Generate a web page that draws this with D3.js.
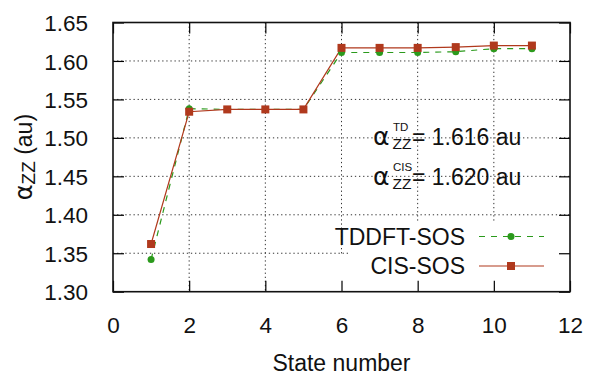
<!DOCTYPE html>
<html>
<head>
<meta charset="utf-8">
<script src="https://cdn.jsdelivr.net/npm/d3@7/dist/d3.min.js"></script>
<style>
  html, body { margin: 0; padding: 0; background: #fff; }
  svg { display: block; font-family: "Liberation Sans", Arial, Helvetica, sans-serif; }
</style>
</head>
<body>
<svg id="chart" width="589" height="375"></svg>
<script>
// Excited-state sum-over-states polarizability, by number of states included
const states = [1, 2, 3, 4, 5, 6, 7, 8, 9, 10, 11];
const tddftSOS = [1.342, 1.538, 1.537, 1.537, 1.537, 1.611, 1.611, 1.611, 1.612, 1.616, 1.616];
const cisSOS   = [1.362, 1.534, 1.537, 1.537, 1.537, 1.617, 1.617, 1.617, 1.618, 1.620, 1.620];
const xTicks = [0, 2, 4, 6, 8, 10, 12];
const yTicks = [1.30, 1.35, 1.40, 1.45, 1.50, 1.55, 1.60, 1.65];
const seriesNames = ["TDDFT-SOS", "CIS-SOS"];
const converged = [
  { sup: "TD", value: "1.616" },
  { sup: "CIS", value: "1.620" }
];

const svg = d3.select("#chart");
const pL = 113, pR = 570, pT = 22.5, pB = 291.7;

const x = d3.scaleLinear().domain([0, 12]).range([pL, pR]);
const y = d3.scaleLinear().domain([1.30, 1.65]).range([pB, pT]);

const green = "#2b9a1c";
const red = "#b0391d";
const greekFont = "DejaVu Sans, sans-serif";

// Dotted grid
const grid = svg.append("g");
grid.selectAll("line.gx").data(xTicks.slice(1, -1)).join("line")
  .attr("x1", d => x(d)).attr("x2", d => x(d))
  .attr("y1", pT).attr("y2", pB)
  .attr("stroke", "#333").attr("stroke-width", 1).attr("stroke-dasharray", "1.3,2.8");
grid.selectAll("line.gy").data(yTicks.slice(1, -1)).join("line")
  .attr("x1", pL).attr("x2", pR)
  .attr("y1", d => y(d)).attr("y2", d => y(d))
  .attr("stroke", "#333").attr("stroke-width", 1).attr("stroke-dasharray", "1.3,2.8");

// Opaque key background
svg.append("rect").attr("x", 348).attr("y", 222).attr("width", pR - 348).attr("height", pB - 222).attr("fill", "#fff");
svg.append("rect").attr("x", 336).attr("y", 255).attr("width", pR - 336).attr("height", pB - 255).attr("fill", "#fff");

// Axes with inward ticks, mirrored on top and right
const tickLen = 11;
const axB = d3.axisBottom(x).tickValues(xTicks).tickSize(-tickLen).tickPadding(tickLen + 14).tickFormat(d3.format("d"));
const axT = d3.axisTop(x).tickValues(xTicks).tickSize(-tickLen).tickFormat("");
const axL = d3.axisLeft(y).tickValues(yTicks).tickSize(-tickLen).tickPadding(tickLen + 14).tickFormat(d3.format(".2f"));
const axR = d3.axisRight(y).tickValues(yTicks).tickSize(-tickLen).tickFormat("");

function style(g) {
  g.select(".domain").remove();
  g.selectAll(".tick line").attr("stroke", "#000").attr("stroke-width", 1.2);
  g.selectAll(".tick text").attr("fill", "#111").attr("font-size", 22.5)
    .attr("font-family", "Liberation Sans, Arial, sans-serif");
}
svg.append("g").attr("transform", `translate(0,${pB})`).call(axB).call(style);
svg.append("g").attr("transform", `translate(0,${pT})`).call(axT).call(style);
svg.append("g").attr("transform", `translate(${pL},0)`).call(axL).call(style)
  .selectAll(".tick text").attr("dy", "0.36em");
svg.append("g").attr("transform", `translate(${pR},0)`).call(axR).call(style);

// Frame
svg.append("rect").attr("x", pL).attr("y", pT).attr("width", pR - pL).attr("height", pB - pT)
  .attr("fill", "none").attr("stroke", "#111").attr("stroke-width", 1.6);

// Series
const line = d3.line().x((d, i) => x(states[i])).y(d => y(d));

svg.append("path").datum(tddftSOS).attr("d", line)
  .attr("fill", "none").attr("stroke", green).attr("stroke-width", 1.2).attr("stroke-dasharray", "6,6");
svg.append("path").datum(cisSOS).attr("d", line)
  .attr("fill", "none").attr("stroke", red).attr("stroke-width", 1.2);

svg.append("g").selectAll("circle").data(tddftSOS).join("circle")
  .attr("cx", (d, i) => x(states[i])).attr("cy", d => y(d)).attr("r", 3.5).attr("fill", green);
const sq = 8;
svg.append("g").selectAll("rect").data(cisSOS).join("rect")
  .attr("x", (d, i) => x(states[i]) - sq / 2).attr("y", d => y(d) - sq / 2)
  .attr("width", sq).attr("height", sq).attr("fill", red);

// Converged values
converged.forEach((c, i) => {
  const by = 145 + i * 40;
  svg.append("text").attr("x", 373).attr("y", by).attr("fill", "#111")
    .attr("font-size", 25).attr("font-family", greekFont).text("α");
  svg.append("text").attr("x", 393).attr("y", by - 14).attr("font-size", 11.5).attr("fill", "#111").text(c.sup);
  svg.append("text").attr("x", 392.5).attr("y", by + 4).attr("font-size", 15.5).attr("fill", "#111").text("ZZ");
  svg.append("text").attr("x", 412).attr("y", by).attr("font-size", 23).attr("fill", "#111")
    .text(`= ${c.value} au`);
});

// Key
const keyRows = [
  { name: seriesNames[0], color: green, dash: "6,6", marker: "circle", y: 236.5 },
  { name: seriesNames[1], color: red, dash: null, marker: "square", y: 266 }
];
keyRows.forEach(r => {
  svg.append("text").attr("x", 465).attr("y", r.y + 8).attr("text-anchor", "end")
    .attr("font-size", 23).attr("fill", "#111").text(r.name);
  svg.append("line").attr("x1", 479).attr("x2", 544).attr("y1", r.y).attr("y2", r.y)
    .attr("stroke", r.color).attr("stroke-width", 1.2).attr("stroke-dasharray", r.dash);
  if (r.marker === "circle") {
    svg.append("circle").attr("cx", 511).attr("cy", r.y).attr("r", 3.5).attr("fill", r.color);
  } else {
    svg.append("rect").attr("x", 511 - sq / 2).attr("y", r.y - sq / 2).attr("width", sq).attr("height", sq).attr("fill", r.color);
  }
});

// Axis titles
svg.append("text").attr("x", (pL + pR) / 2).attr("y", 371).attr("text-anchor", "middle")
  .attr("font-size", 23).attr("fill", "#111").text("State number");

const yt = svg.append("text").attr("transform", `translate(32,${(pT + pB) / 2}) rotate(-90)`)
  .attr("text-anchor", "middle").attr("font-size", 23).attr("fill", "#111");
yt.append("tspan").attr("font-family", greekFont).attr("font-size", 24).text("α");
yt.append("tspan").attr("font-size", 19).attr("dy", 3).text("ZZ");
yt.append("tspan").attr("dy", -3).text(" (au)");
</script>
</body>
</html>
